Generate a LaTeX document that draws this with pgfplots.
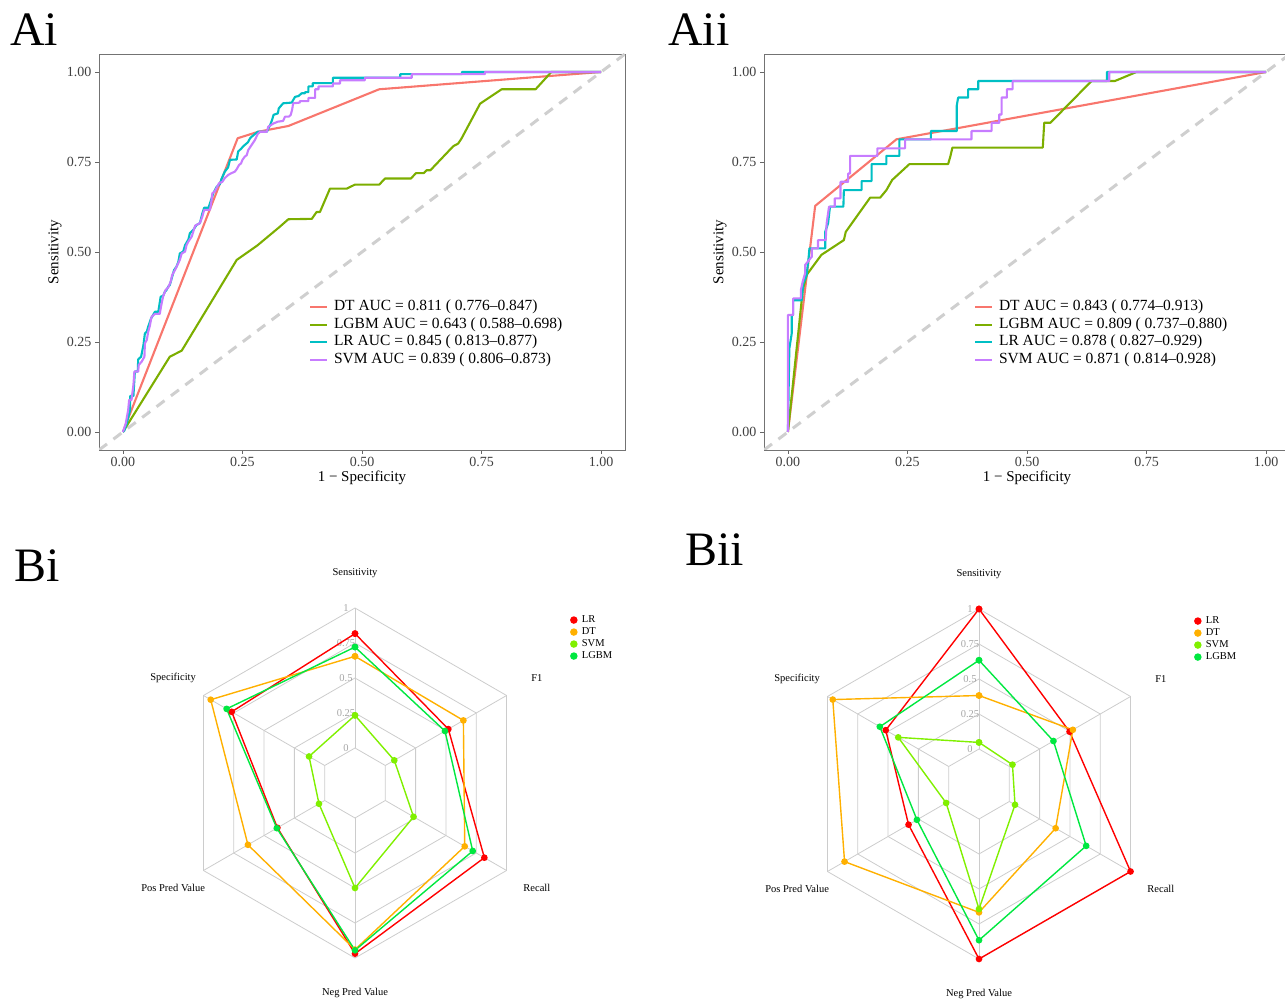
\documentclass[border=0pt]{standalone}
\usepackage{fontspec}
\setmainfont{Liberation Serif}
\usepackage{pgfplots}
\usepackage{pgfplotstable}
\pgfplotsset{compat=1.18}
\usepgfplotslibrary{polar}

\definecolor{cDT}{HTML}{F8766D}
\definecolor{cLGBM}{HTML}{7CAE00}
\definecolor{cLR}{HTML}{00BFC4}
\definecolor{cSVM}{HTML}{C77CFF}
\definecolor{rLR}{HTML}{FF0000}
\definecolor{rDT}{HTML}{FFB000}
\definecolor{rSVM}{HTML}{80F000}
\definecolor{rLGBM}{HTML}{00E840}
\definecolor{gridgray}{HTML}{CCCCCC}
\definecolor{diaggray}{HTML}{CFCFCF}

% radar data: angle of the spoke, metric values per model
\pgfplotstableread{
ang LR DT SVM LGBM
90 0.817 0.655 0.233 0.721
150 0.767 0.940 0.129 0.809
210 0.390 0.633 0.047 0.395
270 0.969 0.940 0.500 0.945
330 0.817 0.655 0.233 0.721
30 0.520 0.644 0.074 0.492
90 0.817 0.655 0.233 0.721
}\radarBi
\pgfplotstableread{
ang LR DT SVM LGBM
90 1.000 0.382 0.047 0.634
150 0.519 0.956 0.416 0.568
210 0.331 0.859 0.021 0.262
270 1.000 0.667 0.643 0.866
330 1.000 0.382 0.047 0.634
30 0.497 0.524 0.026 0.364
90 1.000 0.382 0.047 0.634
}\radarBii

\pgfplotsset{
 rocaxis/.style={
  scale only axis, width=526pt, height=396pt,
  xmin=-0.05,xmax=1.05,ymin=-0.05,ymax=1.05,
  xtick={0,0.25,0.5,0.75,1}, ytick={0,0.25,0.5,0.75,1},
  xticklabels={0.00,0.25,0.50,0.75,1.00},
  yticklabels={0.00,0.25,0.50,0.75,1.00},
  tick align=outside, tick pos=left,
  major tick length=4pt,
  every tick/.style={black!60, line width=0.8pt},
  axis line style={black!55, line width=0.9pt},
  tick label style={font=\fontsize{14}{16}\selectfont, text=black!75},
  label style={font=\fontsize{15}{17}\selectfont},
  xlabel={1 − Specificity}, ylabel={Sensitivity},
  xlabel style={at={(axis description cs:0.5,-0.0707)},anchor=center},
  ylabel style={at={(axis description cs:-0.0837,0.5)},anchor=center},
  legend style={draw=none, fill=none, font=\fontsize{15.5}{17}\selectfont,
    at={(axis cs:0.389,0.372)}, anchor=north west, inner sep=0pt,
    nodes={inner sep=1.3pt, text height=11pt, text depth=4pt},
    /tikz/every odd column/.append style={column sep=4.5pt}},
  legend cell align=left,
  legend image code/.code={\draw[##1] (0pt,0pt) -- (17pt,0pt);},
 },
 roc/.style={line width=2.1pt, line join=round, mark=none},
 radaraxis/.style={
  scale only axis, width=350pt, height=350pt,
  ymin=0, ymax=1, hide axis, clip=false,
  legend style={draw=none, fill=none, font=\fontsize{10.5}{12}\selectfont,
    at={(axis cs:38.2,1.563)}, anchor=north west, inner sep=0pt,
    nodes={inner sep=0.8pt, text height=8pt, text depth=2.4pt},
    /tikz/every odd column/.append style={column sep=3.5pt}},
  legend cell align=left,
  legend image code/.code={\fill[##1] (3pt,0pt) circle (3pt);},
 },
 rad/.style={line width=1.4pt, mark=*, mark size=2.6pt, mark options={solid}},
 gridl/.style={gridgray, line width=0.8pt, forget plot, mark=none},
}

\newcommand{\radargrid}{%
  \addplot[gridl] coordinates {(90,0.2)(150,0.2)(210,0.2)(270,0.2)(330,0.2)(30,0.2)(90,0.2)};
  \addplot[gridl] coordinates {(90,0.4)(150,0.4)(210,0.4)(270,0.4)(330,0.4)(30,0.4)(90,0.4)};
  \addplot[gridl] coordinates {(90,0.6)(150,0.6)(210,0.6)(270,0.6)(330,0.6)(30,0.6)(90,0.6)};
  \addplot[gridl] coordinates {(90,0.8)(150,0.8)(210,0.8)(270,0.8)(330,0.8)(30,0.8)(90,0.8)};
  \addplot[gridl] coordinates {(90,1)(150,1)(210,1)(270,1)(330,1)(30,1)(90,1)};
  \addplot[gridl] coordinates {(90,0.2)(90,1)};
  \addplot[gridl] coordinates {(150,0.2)(150,1)};
  \addplot[gridl] coordinates {(210,0.2)(210,1)};
  \addplot[gridl] coordinates {(270,0.2)(270,1)};
  \addplot[gridl] coordinates {(330,0.2)(330,1)};
  \addplot[gridl] coordinates {(30,0.2)(30,1)};
  \node[text=black!35, font=\fontsize{10.5}{12}\selectfont, xshift=-9pt] at (axis cs:90,0.2) {0};
  \node[text=black!35, font=\fontsize{10.5}{12}\selectfont, xshift=-9pt] at (axis cs:90,0.4) {0.25};
  \node[text=black!35, font=\fontsize{10.5}{12}\selectfont, xshift=-9pt] at (axis cs:90,0.6) {0.5};
  \node[text=black!35, font=\fontsize{10.5}{12}\selectfont, xshift=-9pt] at (axis cs:90,0.8) {0.75};
  \node[text=black!35, font=\fontsize{10.5}{12}\selectfont, xshift=-9pt] at (axis cs:90,1) {1};
  \node[font=\fontsize{10.5}{12}\selectfont] at (axis cs:90,1.2) {Sensitivity};
  \node[font=\fontsize{10.5}{12}\selectfont] at (axis cs:150,1.2) {Specificity};
  \node[font=\fontsize{10.5}{12}\selectfont] at (axis cs:210,1.2) {Pos Pred Value};
  \node[font=\fontsize{10.5}{12}\selectfont] at (axis cs:270,1.2) {Neg Pred Value};
  \node[font=\fontsize{10.5}{12}\selectfont] at (axis cs:330,1.2) {Recall};
  \node[font=\fontsize{10.5}{12}\selectfont] at (axis cs:30,1.2) {F1};
}

\begin{document}
\begin{tikzpicture}[x=1pt,y=1pt]
\useasboundingbox (0,0) rectangle (1285,1003);

% ---------------- Ai ----------------
\begin{axis}[rocaxis, at={(99pt,553pt)}, anchor=south west]
\addplot[diaggray, line width=3pt, dash pattern=on 10pt off 8pt, forget plot] coordinates {(-0.05,-0.05)(1.05,1.05)};
\addplot[roc, cDT] coordinates {(0,0)(0.240,0.816)(0.283,0.834)(0.346,0.850)(0.536,0.952)(1,1)};
\addlegendentry{DT AUC = 0.811 ( 0.776–0.847)}
\addplot[roc, cLGBM] coordinates {(0,0)(0.098,0.209)(0.123,0.226)(0.238,0.478)(0.281,0.518)(0.328,0.570)(0.346,0.591)(0.395,0.592)(0.405,0.611)(0.412,0.611)(0.433,0.676)(0.468,0.676)(0.485,0.687)(0.536,0.687)(0.548,0.704)(0.602,0.704)(0.613,0.719)(0.629,0.719)(0.635,0.727)(0.643,0.727)(0.691,0.794)(0.701,0.801)(0.708,0.815)(0.747,0.912)(0.792,0.952)(0.863,0.952)(0.896,1)(1,1)};
\addlegendentry{LGBM AUC = 0.643 ( 0.588–0.698)}
\addplot[roc, cLR] coordinates {(0,0)(0.003,0.004)(0.008,0.024)(0.015,0.061)(0.015,0.100)(0.022,0.100)(0.025,0.168)(0.031,0.168)(0.032,0.202)(0.038,0.209)(0.043,0.242)(0.046,0.274)(0.050,0.279)(0.053,0.293)(0.059,0.316)(0.061,0.320)(0.067,0.334)(0.074,0.334)(0.079,0.376)(0.084,0.378)(0.088,0.390)(0.091,0.394)(0.095,0.404)(0.098,0.408)(0.103,0.431)(0.107,0.450)(0.112,0.459)(0.116,0.473)(0.119,0.496)(0.126,0.501)(0.130,0.519)(0.137,0.535)(0.140,0.552)(0.147,0.561)(0.154,0.575)(0.161,0.580)(0.166,0.607)(0.170,0.623)(0.179,0.623)(0.182,0.635)(0.189,0.663)(0.196,0.681)(0.203,0.689)(0.206,0.702)(0.213,0.723)(0.220,0.735)(0.224,0.756)(0.238,0.757)(0.241,0.779)(0.248,0.788)(0.252,0.794)(0.259,0.802)(0.262,0.806)(0.266,0.816)(0.269,0.820)(0.282,0.834)(0.301,0.834)(0.308,0.853)(0.312,0.867)(0.315,0.881)(0.324,0.885)(0.326,0.899)(0.335,0.913)(0.353,0.915)(0.360,0.931)(0.367,0.933)(0.374,0.941)(0.381,0.941)(0.381,0.944)(0.388,0.944)(0.388,0.960)(0.397,0.960)(0.397,0.969)(0.439,0.969)(0.439,0.984)(0.580,0.984)(0.580,0.994)(0.709,0.994)(0.709,1)(1,1)};
\addlegendentry{LR AUC = 0.845 ( 0.813–0.877)}
\addplot[roc, cSVM] coordinates {(0,0)(0.006,0.024)(0.011,0.061)(0.013,0.089)(0.018,0.089)(0.022,0.131)(0.024,0.168)(0.032,0.168)(0.033,0.186)(0.039,0.195)(0.045,0.209)(0.046,0.246)(0.050,0.256)(0.053,0.279)(0.056,0.293)(0.060,0.320)(0.067,0.328)(0.077,0.328)(0.081,0.357)(0.084,0.376)(0.089,0.394)(0.095,0.402)(0.100,0.418)(0.103,0.436)(0.109,0.450)(0.114,0.464)(0.119,0.478)(0.123,0.496)(0.130,0.501)(0.133,0.519)(0.137,0.529)(0.144,0.543)(0.151,0.573)(0.161,0.580)(0.166,0.598)(0.170,0.617)(0.182,0.617)(0.185,0.640)(0.187,0.663)(0.192,0.668)(0.201,0.691)(0.208,0.695)(0.213,0.705)(0.220,0.714)(0.227,0.719)(0.234,0.723)(0.238,0.730)(0.243,0.742)(0.247,0.746)(0.250,0.756)(0.255,0.765)(0.259,0.769)(0.262,0.783)(0.269,0.797)(0.276,0.811)(0.282,0.828)(0.287,0.834)(0.301,0.834)(0.304,0.848)(0.315,0.857)(0.324,0.862)(0.335,0.864)(0.339,0.876)(0.347,0.876)(0.351,0.881)(0.354,0.896)(0.356,0.913)(0.370,0.915)(0.370,0.919)(0.388,0.919)(0.388,0.928)(0.402,0.928)(0.402,0.952)(0.409,0.952)(0.409,0.960)(0.439,0.960)(0.439,0.968)(0.454,0.968)(0.454,0.977)(0.506,0.977)(0.506,0.984)(0.604,0.984)(0.604,0.994)(0.757,0.994)(0.757,1)(1,1)};
\addlegendentry{SVM AUC = 0.839 ( 0.806–0.873)}
\end{axis}

% ---------------- Aii ----------------
\begin{axis}[rocaxis, at={(764pt,553pt)}, anchor=south west]
\addplot[diaggray, line width=3pt, dash pattern=on 10pt off 8pt, forget plot] coordinates {(-0.05,-0.05)(1.05,1.05)};
\addplot[roc, cDT] coordinates {(0,0)(0.057,0.628)(0.227,0.813)(1,1)};
\addlegendentry{DT AUC = 0.843 ( 0.774–0.913)}
\addplot[roc, cLGBM] coordinates {(0,0)(0.031,0.394)(0.039,0.436)(0.070,0.492)(0.117,0.533)(0.121,0.556)(0.172,0.651)(0.193,0.651)(0.206,0.672)(0.218,0.700)(0.254,0.744)(0.335,0.744)(0.340,0.767)(0.344,0.790)(0.533,0.790)(0.536,0.859)(0.549,0.859)(0.635,0.975)(0.684,0.975)(0.729,1)(1,1)};
\addlegendentry{LGBM AUC = 0.809 ( 0.737–0.880)}
\addplot[roc, cLR] coordinates {(0,0)(0.003,0.232)(0.008,0.274)(0.008,0.325)(0.011,0.325)(0.011,0.366)(0.029,0.366)(0.032,0.412)(0.039,0.435)(0.043,0.480)(0.045,0.510)(0.078,0.510)(0.078,0.556)(0.084,0.580)(0.088,0.626)(0.116,0.626)(0.117,0.672)(0.154,0.672)(0.154,0.697)(0.175,0.697)(0.175,0.744)(0.206,0.744)(0.206,0.767)(0.233,0.767)(0.233,0.813)(0.299,0.813)(0.299,0.836)(0.353,0.836)(0.353,0.906)(0.356,0.929)(0.377,0.929)(0.377,0.952)(0.398,0.952)(0.398,0.975)(0.667,0.975)(0.667,1)(1,1)};
\addlegendentry{LR AUC = 0.878 ( 0.827–0.929)}
\addplot[roc, cSVM] coordinates {(0,0)(0,0.325)(0.011,0.325)(0.011,0.371)(0.027,0.371)(0.027,0.394)(0.031,0.418)(0.036,0.441)(0.036,0.464)(0.050,0.487)(0.050,0.510)(0.063,0.510)(0.063,0.533)(0.079,0.533)(0.081,0.580)(0.086,0.626)(0.098,0.626)(0.098,0.649)(0.110,0.649)(0.110,0.695)(0.126,0.695)(0.126,0.718)(0.130,0.718)(0.130,0.767)(0.187,0.767)(0.187,0.788)(0.245,0.788)(0.245,0.813)(0.384,0.813)(0.384,0.836)(0.426,0.836)(0.426,0.859)(0.442,0.859)(0.442,0.882)(0.447,0.882)(0.447,0.929)(0.458,0.929)(0.458,0.952)(0.470,0.952)(0.470,0.975)(0.672,0.975)(0.672,1)(1,1)};
\addlegendentry{SVM AUC = 0.871 ( 0.814–0.928)}
\end{axis}

% ---------------- Bi ----------------
\begin{polaraxis}[radaraxis, at={(355pt,220pt)}, anchor=origin]
\radargrid
\addplot[rad, rLR] table[x=ang, y expr=0.2+0.8*\thisrow{LR}] {\radarBi};
\addlegendentry{LR}
\addplot[rad, rDT] table[x=ang, y expr=0.2+0.8*\thisrow{DT}] {\radarBi};
\addlegendentry{DT}
\addplot[rad, rSVM] table[x=ang, y expr=0.2+0.8*\thisrow{SVM}] {\radarBi};
\addlegendentry{SVM}
\addplot[rad, rLGBM] table[x=ang, y expr=0.2+0.8*\thisrow{LGBM}] {\radarBi};
\addlegendentry{LGBM}
\end{polaraxis}

% ---------------- Bii ----------------
\begin{polaraxis}[radaraxis, at={(979pt,219pt)}, anchor=origin]
\radargrid
\addplot[rad, rLR] table[x=ang, y expr=0.2+0.8*\thisrow{LR}] {\radarBii};
\addlegendentry{LR}
\addplot[rad, rDT] table[x=ang, y expr=0.2+0.8*\thisrow{DT}] {\radarBii};
\addlegendentry{DT}
\addplot[rad, rSVM] table[x=ang, y expr=0.2+0.8*\thisrow{SVM}] {\radarBii};
\addlegendentry{SVM}
\addplot[rad, rLGBM] table[x=ang, y expr=0.2+0.8*\thisrow{LGBM}] {\radarBii};
\addlegendentry{LGBM}
\end{polaraxis}

% panel labels
\node[anchor=base west, font=\fontsize{48}{50}\selectfont, inner sep=0pt] at (10,957) {Ai};
\node[anchor=base west, font=\fontsize{48}{50}\selectfont, inner sep=0pt] at (668,957) {Aii};
\node[anchor=base west, font=\fontsize{48}{50}\selectfont, inner sep=0pt] at (14,421) {Bi};
\node[anchor=base west, font=\fontsize{48}{50}\selectfont, inner sep=0pt] at (685,437) {Bii};
\end{tikzpicture}
\end{document}
